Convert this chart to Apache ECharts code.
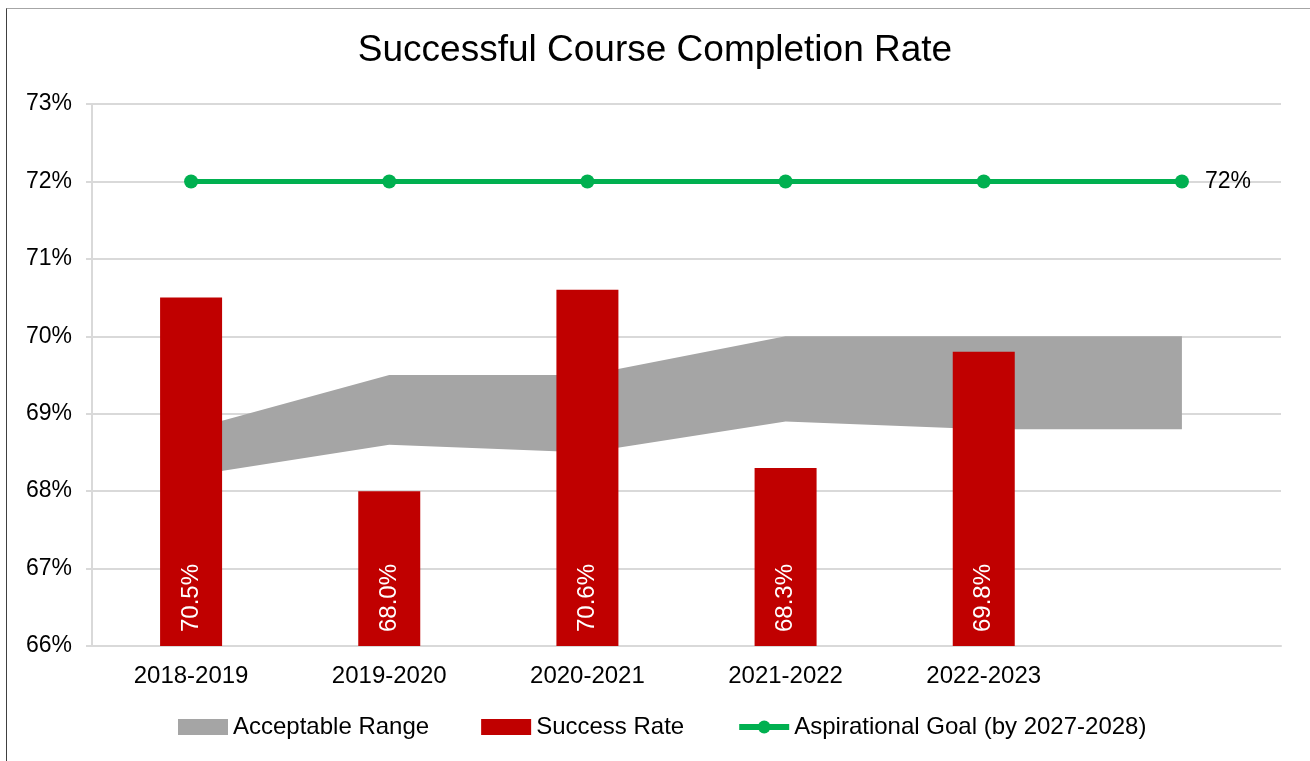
<!DOCTYPE html>
<html>
<head>
<meta charset="utf-8">
<script src="https://cdn.jsdelivr.net/npm/echarts@6/dist/echarts.min.js"></script>
<style>
  html, body { margin: 0; padding: 0; background: #fff; }
  #chart { width: 1310px; height: 761px; }
  #frame {
    position: absolute; left: 6px; top: 8px; width: 1310px; height: 761px;
    border-left: 1px solid #404040; border-top: 1px solid #a6a6a6;
    pointer-events: none;
  }
</style>
</head>
<body>
<div id="chart"></div>
<div id="frame"></div>
<script>
// school years (last slot is the 2027-2028 goal, left unlabeled)
var years = ['2018-2019', '2019-2020', '2020-2021', '2021-2022', '2022-2023', ''];
var successRate = [70.5, 68.0, 70.6, 68.3, 69.8];
var rangeLow = [68.2, 68.6, 68.5, 68.9, 68.8, 68.8];
var rangeHigh = [68.8, 69.5, 69.5, 70.0, 70.0, 70.0];
var goal = [72, 72, 72, 72, 72, 72];

var FONT = "'Liberation Sans', Arial, sans-serif";

// band = low + (high - low), stacked
var rangeSpan = rangeHigh.map(function (v, i) { return +(v - rangeLow[i]).toFixed(2); });

var chart = echarts.init(document.getElementById('chart'));

chart.setOption({
  animation: false,
  textStyle: { fontFamily: FONT },
  title: {
    text: 'Successful Course Completion Rate',
    left: 'center',
    top: 27,
    textStyle: { fontFamily: FONT, fontSize: 37, fontWeight: 'normal', color: '#000' }
  },
  legend: {
    bottom: 17,
    left: 173,
    itemWidth: 50,
    itemHeight: 16,
    itemGap: 52,
    textStyle: { fontFamily: FONT, fontSize: 24, color: '#000' },
    data: [
      { name: 'Acceptable Range', icon: 'rect' },
      { name: 'Success Rate', icon: 'rect' },
      { name: 'Aspirational Goal (by 2027-2028)', lineStyle: { width: 6 } }
    ]
  },
  grid: { left: 92, right: 29, top: 104, bottom: 115 },
  xAxis: {
    type: 'category',
    data: years,
    boundaryGap: true,
    axisLine: { lineStyle: { color: '#d9d9d9', width: 2 } },
    axisTick: { show: false },
    axisLabel: { color: '#000', fontSize: 24, fontFamily: FONT, margin: 18 }
  },
  yAxis: {
    type: 'value',
    min: 66,
    max: 73,
    interval: 1,
    axisLine: { show: true, lineStyle: { color: '#d9d9d9', width: 2 } },
    axisTick: { show: true, length: 6, lineStyle: { color: '#d9d9d9', width: 2 } },
    axisLabel: { color: '#000', fontSize: 23, fontFamily: FONT, margin: 20, formatter: '{value}%' },
    splitLine: { lineStyle: { color: '#d9d9d9', width: 2 } }
  },
  series: [
    {
      name: 'rangeBase',
      type: 'line',
      stack: 'range',
      data: rangeLow,
      symbol: 'none',
      lineStyle: { opacity: 0 },
      silent: true,
      z: 1
    },
    {
      name: 'Acceptable Range',
      type: 'line',
      stack: 'range',
      data: rangeSpan,
      symbol: 'none',
      lineStyle: { opacity: 0 },
      itemStyle: { color: '#a5a5a5' },
      areaStyle: { color: '#a5a5a5', opacity: 1 },
      z: 1
    },
    {
      name: 'Success Rate',
      type: 'bar',
      data: successRate,
      barWidth: 62,
      itemStyle: { color: '#c00000' },
      z: 3,
      label: {
        show: true,
        position: 'insideBottom',
        rotate: 90,
        align: 'left',
        verticalAlign: 'middle',
        distance: 14,
        color: '#fff',
        fontSize: 24,
        fontFamily: FONT,
        formatter: function (p) { return p.value.toFixed(1) + '%'; }
      }
    },
    {
      name: 'Aspirational Goal (by 2027-2028)',
      type: 'line',
      data: goal,
      symbol: 'circle',
      symbolSize: 14,
      lineStyle: { color: '#00b050', width: 5 },
      itemStyle: { color: '#00b050' },
      label: {
        show: true,
        position: 'right',
        distance: 16,
        color: '#000',
        fontSize: 23,
        fontFamily: FONT,
        formatter: function (p) { return p.dataIndex === goal.length - 1 ? p.value + '%' : ''; }
      },
      z: 4
    }
  ]
});
</script>
</body>
</html>
